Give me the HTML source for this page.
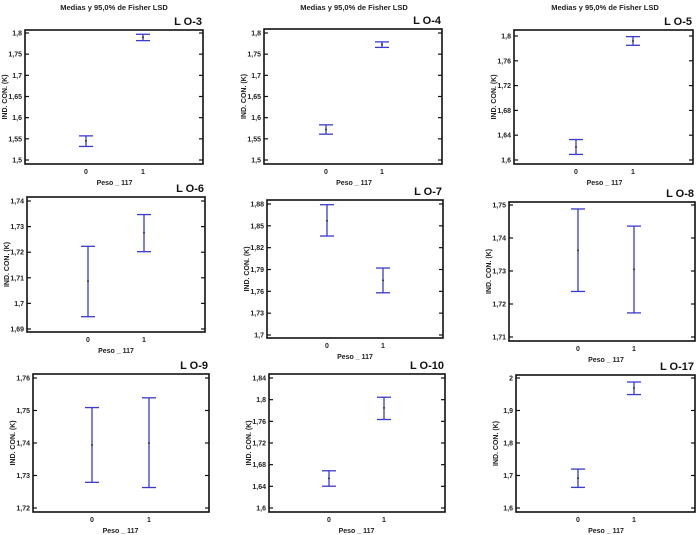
<!DOCTYPE html>
<html><head><meta charset="utf-8"><style>
html,body{margin:0;padding:0;background:#fff;}
svg{display:block;font-family:"Liberation Sans",sans-serif;}
</style></head><body>
<svg id="c" width="700" height="535" viewBox="0 0 700 535"></svg>
<script>
// Data per panel
const titles = ["L O-3","L O-4","L O-5","L O-6","L O-7","L O-8","L O-9","L O-10","L O-17"];
const categories = ["0","1"];
const means = [[1.545,1.790],[1.572,1.773],[1.621,1.792],[1.7087,1.7276],[1.857,1.775],[1.7362,1.7305],[1.7394,1.7400],[1.6547,1.7848],[1.692,1.9693]];
const lowers = [[1.532,1.782],[1.561,1.766],[1.609,1.785],[1.6948,1.7202],[1.836,1.758],[1.7238,1.7173],[1.7279,1.7263],[1.6402,1.7634],[1.6634,1.9490]];
const uppers = [[1.557,1.797],[1.583,1.779],[1.633,1.799],[1.7223,1.7347],[1.879,1.792],[1.7488,1.7436],[1.7509,1.7539],[1.6687,1.8045],[1.7197,1.9877]];
const tickVals = [
 [1.5,1.55,1.6,1.65,1.7,1.75,1.8],
 [1.5,1.55,1.6,1.65,1.7,1.75,1.8],
 [1.6,1.64,1.68,1.72,1.76,1.8],
 [1.69,1.70,1.71,1.72,1.73,1.74],
 [1.70,1.73,1.76,1.79,1.82,1.85,1.88],
 [1.71,1.72,1.73,1.74,1.75],
 [1.72,1.73,1.74,1.75,1.76],
 [1.6,1.64,1.68,1.72,1.76,1.8,1.84],
 [1.6,1.7,1.8,1.9,2.0]];
const tickLabels = [
 ["1,5","1,55","1,6","1,65","1,7","1,75","1,8"],
 ["1,5","1,55","1,6","1,65","1,7","1,75","1,8"],
 ["1,6","1,64","1,68","1,72","1,76","1,8"],
 ["1,69","1,7","1,71","1,72","1,73","1,74"],
 ["1,7","1,73","1,76","1,79","1,82","1,85","1,88"],
 ["1,71","1,72","1,73","1,74","1,75"],
 ["1,72","1,73","1,74","1,75","1,76"],
 ["1,6","1,64","1,68","1,72","1,76","1,8","1,84"],
 ["1,6","1,7","1,8","1,9","2"]];

// layout: box [l,t,r,b], calibration [pixel of first tick, pixel of last tick], x positions of categories
const layout = [
 {box:[25,30,203,164],cal:[160,33],xs:[86,143]},
 {box:[264,29,442,164],cal:[160,33],xs:[326,382]},
 {box:[514,30,693,164],cal:[160,36],xs:[576,633]},
 {box:[27,197,205,332],cal:[329,201],xs:[88,144]},
 {box:[267,200,443,338],cal:[335,204],xs:[327,383]},
 {box:[509,202,695,341],cal:[337,205],xs:[578,634]},
 {box:[33,374,209,512],cal:[508,378],xs:[92,149]},
 {box:[269,374,445,512],cal:[508,378],xs:[329,384]},
 {box:[516,375,695,512],cal:[508,378],xs:[578,634]}];
const headerX = [114,354,605];

const svg = document.getElementById('c');
const NS = 'http://www.w3.org/2000/svg';
function mk(tag, attrs, parent){const e=document.createElementNS(NS,tag);for(const k in attrs)e.setAttribute(k,attrs[k]);(parent||svg).appendChild(e);return e;}

headerX.forEach((x)=>{
  const t = mk('text',{x:x,y:10,'text-anchor':'middle','font-size':'7.5','font-weight':'bold',fill:'#222'});
  
  
  t.textContent='Medias y 95,0% de Fisher LSD';
});

titles.forEach((title,i)=>{
  const L = layout[i];
  const [l,t,r,b] = L.box;
  const tv = tickVals[i];
  const v0 = tv[0], v1 = tv[tv.length-1];
  const y = v => L.cal[0] + (v - v0)/(v1 - v0)*(L.cal[1]-L.cal[0]);
  const g = mk('g',{});
  
  
  const box = mk('rect',{x:l,y:t,width:r-l,height:b-t,fill:'none',stroke:'#111','stroke-width':'1.6'},g);
  
  
  const tt = mk('text',{x:r-1,y:t-5,'text-anchor':'end','font-size':'11','font-weight':'bold',fill:'#111'},g);
  
  
  tt.textContent = title;
  tv.forEach((v,k)=>{
    const yy = y(v);
    mk('line',{x1:l,x2:l+4,y1:yy,y2:yy,stroke:'#111','stroke-width':'1.2'},g);
    mk('line',{x1:r-4,x2:r,y1:yy,y2:yy,stroke:'#111','stroke-width':'1.2'},g);
    const lab = mk('text',{x:l-3,y:yy+2.5,'text-anchor':'end','font-size':'7','font-weight':'bold',fill:'#222'},g);
    
    
    lab.textContent = tickLabels[i][k];
  });
  const yl = mk('text',{x:0,y:0,'text-anchor':'middle','font-size':'7','font-weight':'bold',fill:'#222',transform:`translate(${l-18},${(t+b)/2}) rotate(-90)`},g);
  
  
  yl.textContent = 'IND. CON. (K)';
  categories.forEach((c,j)=>{
    const x = L.xs[j];
    const xl = mk('text',{x:x,y:b+10,'text-anchor':'middle','font-size':'7','font-weight':'bold',fill:'#222'},g);
    
    
    xl.textContent = c;
    const eb = mk('g',{stroke:'#3a3acc','stroke-width':'1.3'},g);
    
    
    const yh = y(uppers[i][j]), yo = y(lowers[i][j]);
    mk('line',{x1:x,x2:x,y1:yh,y2:yo},eb);
    mk('line',{x1:x-7,x2:x+7,y1:yh,y2:yh},eb);
    mk('line',{x1:x-7,x2:x+7,y1:yo,y2:yo},eb);
    const m = mk('circle',{cx:x,cy:y(means[i][j]),r:1,fill:'#333'},g);
    
    
  });
  const xt = mk('text',{x:(L.xs[0]+L.xs[1])/2,y:b+21,'text-anchor':'middle','font-size':'7','font-weight':'bold',fill:'#222'},g);
  
  
  xt.textContent = 'Peso _ 117';
});
</script>
</body></html>
